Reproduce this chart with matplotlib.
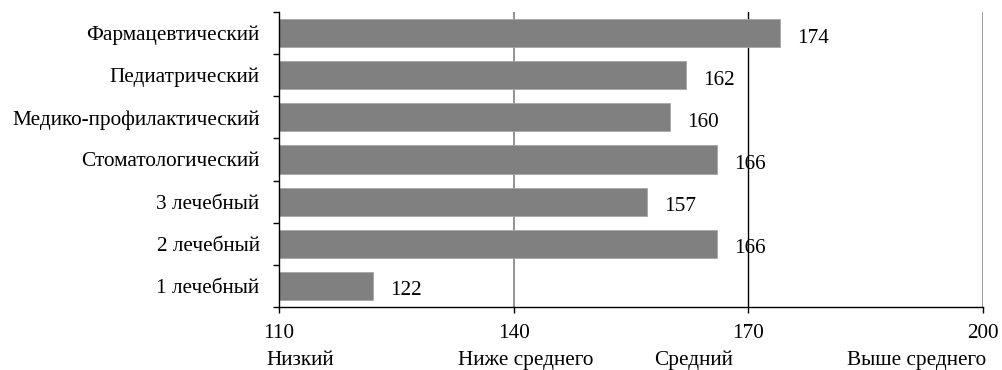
import matplotlib
matplotlib.use("Agg")
import matplotlib.pyplot as plt
from matplotlib.transforms import blended_transform_factory

# Faculties and their scores (bottom to top)
faculties = ["1 лечебный", "2 лечебный", "3 лечебный", "Стоматологический",
             "Медико-профилактический", "Педиатрический", "Фармацевтический"]
scores = [122, 166, 157, 166, 160, 162, 174]

x_ticks = [110, 140, 170, 200]
level_names = ["Низкий", "Ниже среднего", "Средний", "Выше среднего"]

plt.rcParams["font.family"] = ["Liberation Serif", "DejaVu Serif"]
FS = 15.3

fig = plt.figure(figsize=(10.02, 3.70), dpi=100)
ax = fig.add_axes([279 / 1002, 1 - 307 / 370, (983 - 279) / 1002, (307 - 12) / 370])

ypos = list(range(len(faculties)))

# reference lines at the band boundaries
ax.axvline(140, color="#808080", lw=1.2, zorder=1)
ax.axvline(170, color="black", lw=1.0, zorder=1)
ax.axvline(200, color="#808080", lw=1.8, zorder=1)

ax.barh(ypos, [s - 110 for s in scores], left=110, height=0.67,
        color="#808080", edgecolor="#a6a6a6", linewidth=0.6, zorder=2)

for y, s in zip(ypos, scores):
    ax.annotate(str(s), xy=(s, y), xytext=(12.3, -6.8), textcoords="offset points",
                ha="left", va="baseline", fontsize=FS, zorder=3)

ax.set_xlim(110, 200)
ax.set_ylim(-0.5, len(faculties) - 0.5)

ax.set_xticks(x_ticks)
ax.set_xticklabels([str(t) for t in x_ticks], fontsize=FS)
ax.tick_params(axis="x", direction="out", length=4.5, width=1, pad=7.5)

ax.set_yticks(ypos)
ax.set_yticklabels(faculties, fontsize=FS)
ax.tick_params(axis="y", which="major", length=0, pad=14)
ax.set_yticks([y - 0.5 for y in ypos] + [len(faculties) - 0.5], minor=True)
ax.tick_params(axis="y", which="minor", direction="out", length=4.5, width=1)

for side in ("top", "right"):
    ax.spines[side].set_visible(False)
for side in ("left", "bottom"):
    ax.spines[side].set_linewidth(1.0)
    ax.spines[side].set_color("black")

# level names under the axis
trans = blended_transform_factory(ax.transData, fig.transFigure)
level_x = [108.45, 132.85, 158.0, 182.65]
for x, name in zip(level_x, level_names):
    ax.text(x, 1 - 365 / 370, name, transform=trans, ha="left", va="baseline",
            fontsize=FS, clip_on=False)

fig.savefig("out.png", dpi=100)
